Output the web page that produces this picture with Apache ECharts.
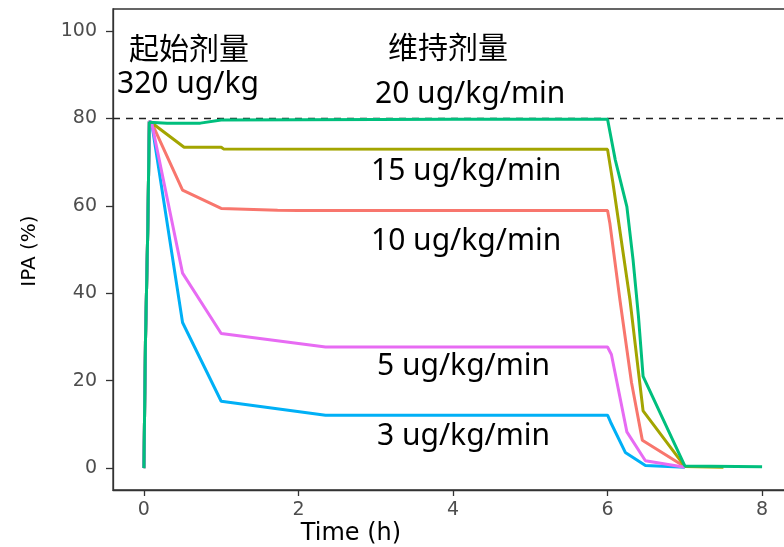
<!DOCTYPE html>
<html>
<head>
<meta charset="utf-8">
<script src="https://cdn.jsdelivr.net/npm/echarts@6/dist/echarts.min.js"></script>
<style>
  html, body { margin: 0; padding: 0; background: #fff; overflow: hidden; }
  /* the panel runs a little past the right edge of the window */
  #chart { width: 793px; height: 547px; }
</style>
</head>
<body>
<div id="chart"></div>
<script>
// IPA (%) over time for a 320 ug/kg loading dose followed by different maintenance infusions
const xTicks = [0, 2, 4, 6, 8];
const yTicks = [0, 20, 40, 60, 80, 100];
const targetLevel = 80;

const loadingTitle = '起始剂量';
const loadingDose = '320 ug/kg';
const maintenanceTitle = '维持剂量';
const rateNames = ['10 ug/kg/min', '15 ug/kg/min', '20 ug/kg/min', '3 ug/kg/min', '5 ug/kg/min'];

// [time (h), IPA (%)]
const ipa10 = [[0, 0], [0.02, 28.8], [0.05, 54.5], [0.07, 79.3], [0.1, 79], [0.5, 63.6], [1, 59.4], [1.73, 59], [2, 58.9], [6, 58.9], [6.03, 56], [6.16, 38.5], [6.31, 19.6], [6.45, 6.4], [7, 0.3]];
const ipa15 = [[0, 0], [0.02, 28.8], [0.05, 54.5], [0.07, 79.3], [0.1, 79], [0.52, 73.4], [1, 73.4], [1.03, 73.0], [6, 72.9], [6.07, 65.2], [6.29, 38.5], [6.46, 13.1], [7, 0.4], [7.5, 0.2]];
const ipa20 = [[0, 0], [0.02, 28.8], [0.05, 54.5], [0.07, 79.1], [0.3, 78.9], [0.73, 78.9], [1, 79.6], [2, 79.7], [4, 79.8], [6, 79.8], [6.1, 70.5], [6.25, 59.8], [6.33, 47.7], [6.4, 34.7], [6.46, 21], [7, 0.5], [8, 0.3]];
const ipa3 = [[0, 0], [0.02, 28.8], [0.05, 54.5], [0.07, 79.3], [0.1, 79], [0.5, 33.3], [1, 15.3], [2.35, 12.1], [6, 12.1], [6.04, 10.5], [6.23, 3.6], [6.49, 0.6], [7, 0.2]];
const ipa5 = [[0, 0], [0.02, 28.8], [0.05, 54.5], [0.07, 79.3], [0.1, 79], [0.5, 44.6], [1, 30.8], [2.35, 27.7], [6, 27.7], [6.05, 26], [6.25, 8.3], [6.49, 1.7], [7, 0.2]];

const seriesData = [ipa10, ipa15, ipa3, ipa5, ipa20];
const seriesNames = [rateNames[0], rateNames[1], rateNames[3], rateNames[4], rateNames[2]];
const seriesColors = ['#F8766D', '#A3A500', '#00B0F6', '#E76BF3', '#00BF7D'];

const tickFont = 'DejaVu Sans';
const noteFont = '"Noto Sans", "Noto Sans CJK SC", sans-serif';

function note(text, x, y) {
  return {
    type: 'text',
    x: x, y: y,
    silent: true,
    style: {
      text: text,
      fontSize: 30,
      fontFamily: noteFont,
      fill: '#000',
      align: 'left', textAlign: 'left',
      verticalAlign: 'middle', textVerticalAlign: 'middle'
    }
  };
}

const chart = echarts.init(document.getElementById('chart'), null, { renderer: 'canvas' });

const series = seriesData.map((d, i) => {
  const s = {
    name: seriesNames[i],
    type: 'line',
    data: d,
    showSymbol: false,
    symbol: 'none',
    lineStyle: { color: seriesColors[i], width: 3 },
    itemStyle: { color: seriesColors[i] },
    z: 3 + i
  };
  if (i === 0) {
    s.markLine = {
      silent: true,
      symbol: ['none', 'none'],
      label: { show: false },
      lineStyle: { type: [7, 6], color: '#222', width: 1.4 },
      data: [{ yAxis: targetLevel }]
    };
  }
  return s;
});

chart.setOption({
  animation: false,
  backgroundColor: '#fff',
  grid: {
    left: 113, top: 9, bottom: 57, right: 0,
    show: true, borderColor: '#333', borderWidth: 1.3, backgroundColor: 'transparent'
  },
  xAxis: {
    type: 'value',
    min: -0.4, max: 8.4,
    splitLine: { show: false },
    axisLine: { show: true, onZero: false, lineStyle: { color: '#333', width: 1.3 } },
    axisTick: { show: true, length: 6, customValues: xTicks, lineStyle: { color: '#333', width: 1.3 } },
    axisLabel: { customValues: xTicks, margin: 11, color: '#4d4d4d', fontSize: 19, fontFamily: tickFont }
  },
  yAxis: {
    type: 'value',
    min: -5, max: 105,
    splitLine: { show: false },
    axisLine: { show: true, onZero: false, lineStyle: { color: '#333', width: 1.3 } },
    axisTick: { show: true, length: 7, customValues: yTicks, lineStyle: { color: '#333', width: 1.3 } },
    axisLabel: { customValues: yTicks, margin: 16, color: '#4d4d4d', fontSize: 19, fontFamily: tickFont }
  },
  series: series,
  graphic: [
    {
      type: 'text', x: 351, y: 534, silent: true,
      style: { text: 'Time (h)', fontSize: 24, fontFamily: tickFont, fill: '#000',
               align: 'center', textAlign: 'center', verticalAlign: 'middle', textVerticalAlign: 'middle' }
    },
    {
      type: 'text', x: 30, y: 251, rotation: Math.PI / 2, silent: true,
      style: { text: 'IPA (%)', fontSize: 20, fontFamily: tickFont, fill: '#000',
               align: 'center', textAlign: 'center', verticalAlign: 'middle', textVerticalAlign: 'middle' }
    },
    note(loadingTitle, 129, 50),
    note(loadingDose, 117, 84),
    note(maintenanceTitle, 388, 49),
    note(rateNames[2], 375, 94),
    note(rateNames[1], 371, 171.5),
    note(rateNames[0], 371, 241.5),
    note(rateNames[4], 377, 366),
    note(rateNames[3], 377, 436)
  ]
});
</script>
</body>
</html>
